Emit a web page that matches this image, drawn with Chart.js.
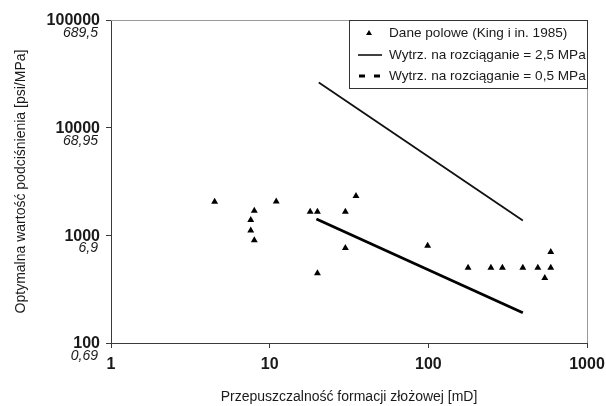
<!DOCTYPE html>
<html>
<head>
<meta charset="utf-8">
<script src="https://cdn.jsdelivr.net/npm/chart.js@4.4.1/dist/chart.umd.min.js"></script>
<style>
    html, body { margin: 0; padding: 0; background: #fff; }
    canvas { display: block; }
</style>
</head>
<body>
<canvas id="podcisnienie-chart" width="606" height="406"></canvas>
<script>
// tick values
const xTicks = [1, 10, 100, 1000];
const yTicks = [100, 1000, 10000, 100000];
const yTicksMPa = ['0,69', '6,9', '68,95', '689,5'];

// field data (King i in. 1985): permeability [mD] / drawdown [psi]
const fieldK = [4.5, 7.6, 8, 7.6, 8, 11, 18, 20, 20, 30, 30, 35, 99, 178, 248, 293, 394, 490, 591, 542, 591];
const fieldP = [2050, 1390, 1690, 1110, 900, 2060, 1660, 1660, 444, 1660, 764, 2320, 800, 500, 500, 500, 500, 500, 500, 402, 701];

// tensile strength 2,5 MPa
const line25K = [20.4, 394];
const line25P = [26250, 1370];

// tensile strength 0,5 MPa
const line05K = [19.7, 394];
const line05P = [1420, 191];

const legendLabels = [
    'Dane polowe (King i in. 1985)',
    'Wytrz. na rozciąganie = 2,5 MPa',
    'Wytrz. na rozciąganie = 0,5 MPa'
];

const FONT = '"Liberation Sans", Arial, sans-serif';
const TEXT = '#1a1a1a';
const AXIS = '#3a3a3a';

function toPoints(xs, ys) {
    return xs.map((x, i) => ({ x: x, y: ys[i] }));
}

// y labels have two lines in different fonts, so draw them here
const yLabelPlugin = {
    id: 'yLabels',
    afterDraw(chart) {
        const ctx = chart.ctx;
        const yScale = chart.scales.y;
        ctx.save();
        ctx.fillStyle = TEXT;
        ctx.textAlign = 'right';
        ctx.textBaseline = 'middle';
        yTicks.forEach((v, i) => {
            const y = yScale.getPixelForValue(v);
            ctx.font = 'bold 16px ' + FONT;
            ctx.fillText(String(v), 100, y + 1);
            ctx.font = 'italic 14px ' + FONT;
            ctx.fillText(yTicksMPa[i], 98, y + 13);
        });
        ctx.restore();
    }
};

// light frame on top and right of the plot area
const framePlugin = {
    id: 'frame',
    beforeDatasetsDraw(chart) {
        const { ctx, chartArea } = chart;
        ctx.save();
        ctx.strokeStyle = '#9a9a9a';
        ctx.lineWidth = 1;
        ctx.beginPath();
        ctx.moveTo(chartArea.left, chartArea.top + 0.5);
        ctx.lineTo(chartArea.right + 0.5, chartArea.top + 0.5);
        ctx.lineTo(chartArea.right + 0.5, chartArea.bottom);
        ctx.stroke();
        ctx.restore();
    }
};

// legend box in the top-right corner
const legendPlugin = {
    id: 'boxLegend',
    afterDraw(chart) {
        const { ctx, chartArea } = chart;
        const right = chartArea.right + 0.5;
        const left = 349.5;
        const top = chartArea.top + 0.5;
        const bottom = 88.5;
        ctx.save();
        ctx.fillStyle = '#fff';
        ctx.fillRect(left, top, right - left, bottom - top);
        ctx.strokeStyle = '#333';
        ctx.lineWidth = 1;
        ctx.strokeRect(left, top, right - left, bottom - top);

        const rows = [33, 55, 76];
        // triangle marker
        ctx.fillStyle = '#000';
        ctx.beginPath();
        ctx.moveTo(369, rows[0] - 3);
        ctx.lineTo(372, rows[0] + 2);
        ctx.lineTo(366, rows[0] + 2);
        ctx.closePath();
        ctx.fill();
        // solid line
        ctx.strokeStyle = '#000';
        ctx.lineWidth = 1.5;
        ctx.beginPath();
        ctx.moveTo(358, rows[1]);
        ctx.lineTo(382, rows[1]);
        ctx.stroke();
        // dashes
        ctx.lineWidth = 3;
        ctx.beginPath();
        ctx.moveTo(359, rows[2]);
        ctx.lineTo(365, rows[2]);
        ctx.moveTo(374, rows[2]);
        ctx.lineTo(380, rows[2]);
        ctx.stroke();

        ctx.fillStyle = TEXT;
        ctx.font = '13.6px ' + FONT;
        ctx.textAlign = 'left';
        ctx.textBaseline = 'middle';
        legendLabels.forEach((t, i) => ctx.fillText(t, 389, rows[i]));
        ctx.restore();
    }
};

document.addEventListener('DOMContentLoaded', () => {
    const ctx = document.getElementById('podcisnienie-chart').getContext('2d');
    new Chart(ctx, {
        type: 'scatter',
        data: {
            datasets: [
                {
                    label: legendLabels[0],
                    data: toPoints(fieldK, fieldP),
                    pointStyle: 'triangle',
                    pointRadius: 4,
                    backgroundColor: '#000',
                    borderColor: '#000',
                    borderWidth: 0,
                    showLine: false
                },
                {
                    label: legendLabels[1],
                    data: toPoints(line25K, line25P),
                    showLine: true,
                    borderColor: '#111',
                    borderWidth: 1.8,
                    pointRadius: 0
                },
                {
                    label: legendLabels[2],
                    data: toPoints(line05K, line05P),
                    showLine: true,
                    borderColor: '#000',
                    borderWidth: 2.8,
                    pointRadius: 0
                }
            ]
        },
        options: {
            responsive: false,
            animation: false,
            layout: {
                padding: { top: 20, right: 19, left: 0, bottom: 0 }
            },
            plugins: {
                legend: { display: false },
                tooltip: { enabled: false }
            },
            scales: {
                x: {
                    type: 'logarithmic',
                    min: 1,
                    max: 1000,
                    afterBuildTicks: (scale) => {
                        scale.ticks = xTicks.map(v => ({ value: v }));
                    },
                    afterFit: (scale) => {
                        scale.height = 63;
                        scale.paddingLeft = 0;
                        scale.paddingRight = 0;
                    },
                    border: { display: true, color: AXIS, width: 1 },
                    grid: { drawOnChartArea: false, drawTicks: true, tickLength: 5, color: AXIS },
                    ticks: {
                        color: TEXT,
                        padding: 7,
                        maxRotation: 0,
                        autoSkip: false,
                        font: { family: FONT, size: 16, weight: 'bold' },
                        callback: (value) => String(value)
                    },
                    title: {
                        display: true,
                        text: 'Przepuszczalność formacji złożowej [mD]',
                        color: TEXT,
                        font: { family: FONT, size: 14 },
                        padding: { top: 9, bottom: 0 }
                    }
                },
                y: {
                    type: 'logarithmic',
                    min: 100,
                    max: 100000,
                    afterBuildTicks: (scale) => {
                        scale.ticks = yTicks.map(v => ({ value: v }));
                    },
                    afterFit: (scale) => {
                        scale.width = 111;
                        scale.paddingTop = 0;
                        scale.paddingBottom = 0;
                    },
                    border: { display: true, color: AXIS, width: 1 },
                    grid: { drawOnChartArea: false, drawTicks: true, tickLength: 5, color: AXIS },
                    ticks: { display: false },
                    title: {
                        display: true,
                        text: 'Optymalna wartość podciśnienia [psi/MPa]',
                        color: TEXT,
                        font: { family: FONT, size: 14 },
                        padding: { top: 12.6, bottom: 0 }
                    }
                }
            }
        },
        plugins: [framePlugin, yLabelPlugin, legendPlugin]
    });
});
</script>
</body>
</html>
